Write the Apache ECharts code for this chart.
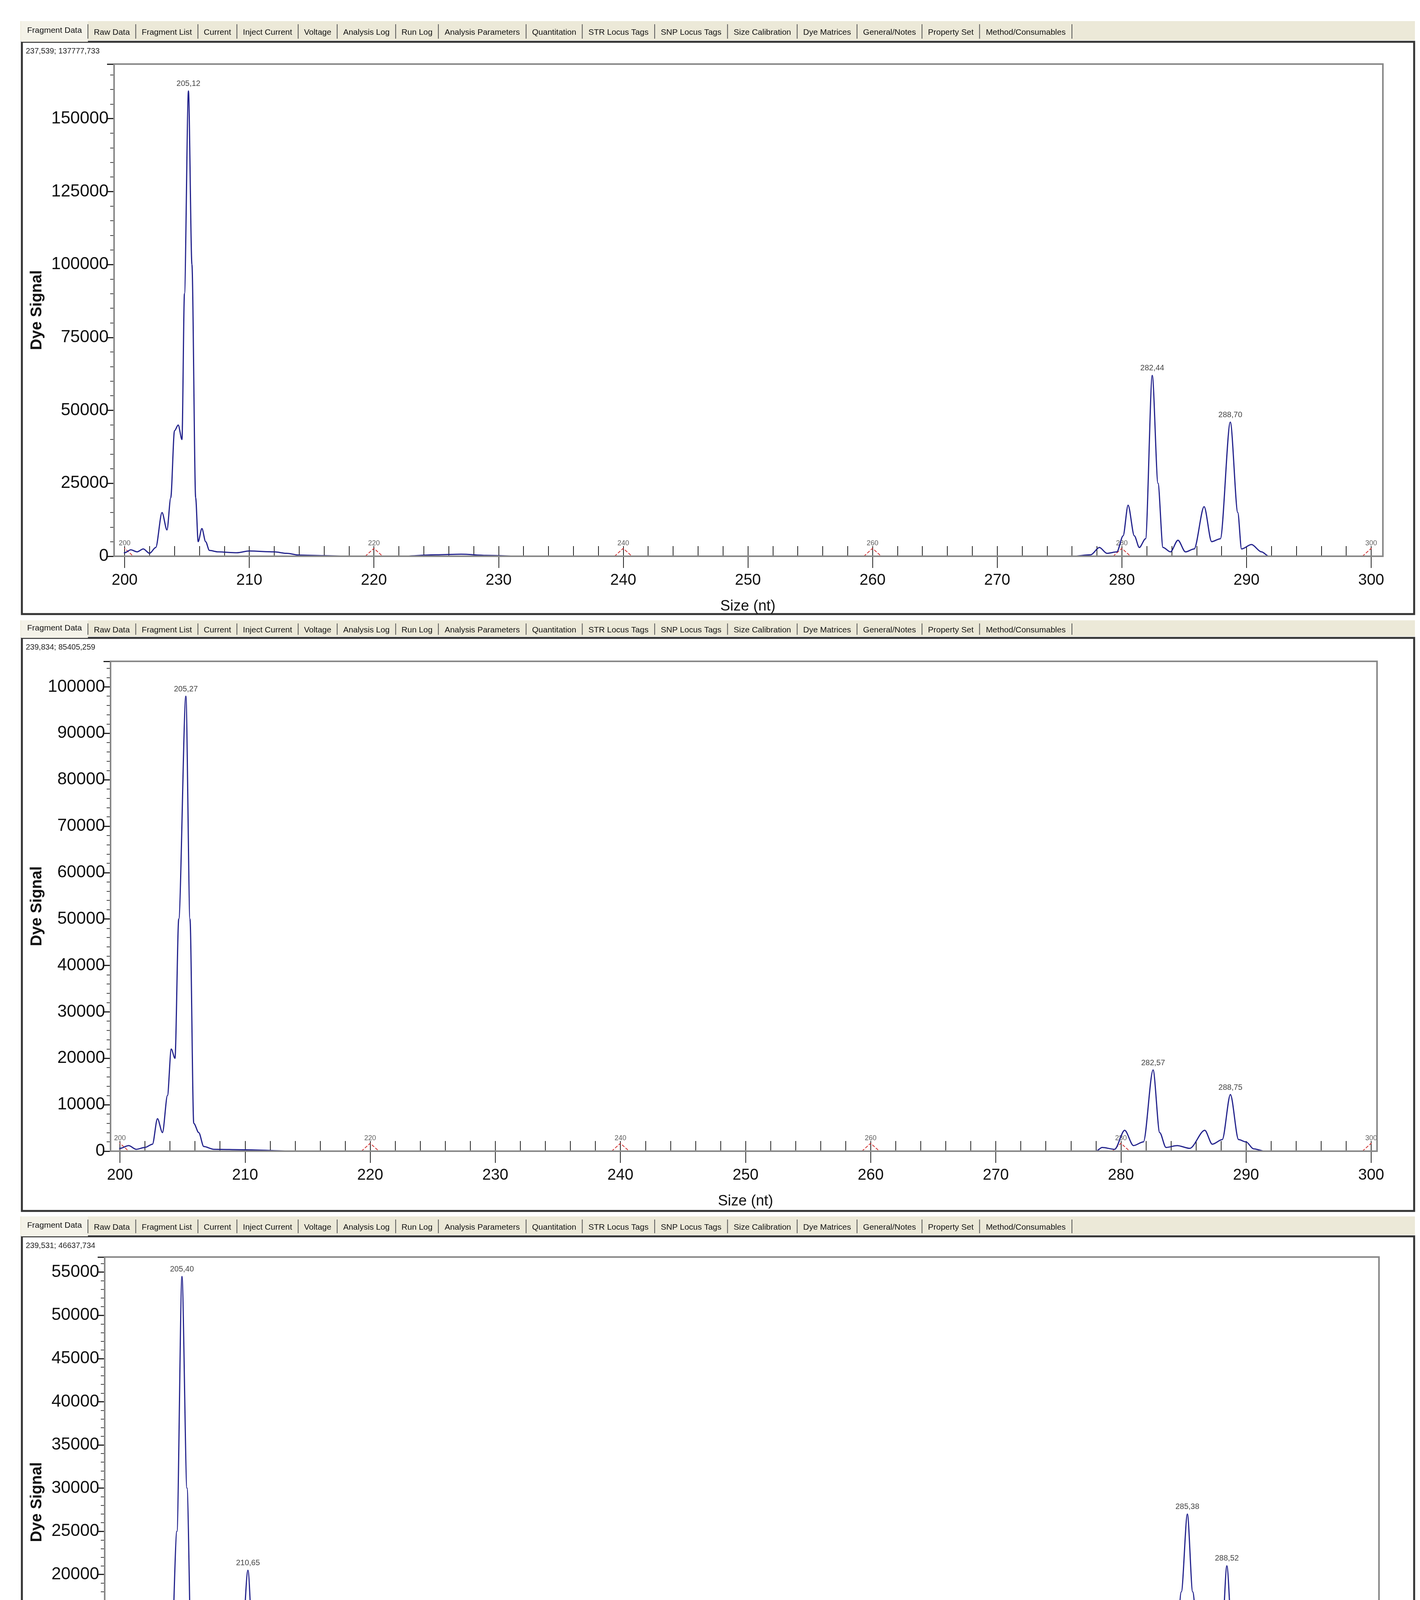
<!DOCTYPE html>
<html>
<head>
<meta charset="UTF-8">
<title>Fragment Data</title>
<script src="https://cdn.jsdelivr.net/npm/echarts@6/dist/echarts.min.js"></script>
<style>
  body { margin: 0; background: #fff; }
  #chart { width: 3635px; height: 4696px; }
</style>
</head>
<body>
<div id="chart"></div>
<script>
// tabs of the analysis window
var tabNames = ['Fragment Data', 'Raw Data', 'Fragment List', 'Current', 'Inject Current', 'Voltage',
  'Analysis Log', 'Run Log', 'Analysis Parameters', 'Quantitation', 'STR Locus Tags', 'SNP Locus Tags',
  'Size Calibration', 'Dye Matrices', 'General/Notes', 'Property Set', 'Method/Consumables'];
var cursorText = ['237,539; 137777,733', '239,834; 85405,259', '239,531; 46637,734'];

var xTicks = [200, 210, 220, 230, 240, 250, 260, 270, 280, 290, 300];
var yMax = [168700, 105500, 56750];
var yStep = [25000, 10000, 5000];

// blue dye traces [size, signal]
var trace1 = [[199.3,0],[200,1200],[200.5,2200],[201,1500],[201.5,2500],[202,1000],[202.5,3000],[203,15000],[203.4,9000],[203.7,20000],[204,43000],[204.3,45000],[204.6,40000],[204.8,90000],[205.12,159500],[205.4,100000],[205.7,20000],[205.9,5000],[206.2,9500],[206.5,5000],[206.8,2000],[207.5,1500],[209,1200],[210,1800],[212,1500],[213,1000],[214,400],[216,200],[218,0],[222,0],[225,500],[227,700],[229,300],[232,0],[276,0],[277.5,500],[278.2,3000],[278.8,1000],[279.6,1500],[280.1,7000],[280.5,17500],[281,7000],[281.4,3000],[281.9,6000],[282.44,62000],[282.9,25000],[283.3,3000],[283.9,1500],[284.5,5500],[285.1,1500],[285.8,2500],[286.6,17000],[287.2,5000],[287.9,6000],[288.7,46000],[289.3,15000],[289.6,2500],[290.4,4000],[291.2,1500],[291.8,0],[300.5,0]];
var trace2 = [[199.3,0],[200,600],[200.7,1200],[201.3,400],[202,800],[202.6,1500],[203,7000],[203.4,4000],[203.8,12000],[204.1,22000],[204.4,20000],[204.7,50000],[205.27,98000],[205.6,50000],[205.9,6000],[206.3,4000],[206.7,1000],[207.5,400],[210,300],[214,0],[278,0],[278.5,800],[279.5,400],[280.3,4500],[281,1200],[281.8,2000],[282.57,17500],[283.1,4000],[283.6,800],[284.5,1200],[285.5,600],[286.7,4500],[287.3,1500],[288.1,2500],[288.75,12200],[289.4,2500],[290,2000],[290.6,500],[291.5,0],[300.5,0]];
var trace3 = [[199.3,0],[200,400],[201,300],[202,700],[203.3,3000],[203.8,2500],[204.5,8000],[205,25000],[205.4,54500],[205.8,30000],[206.2,6000],[206.7,2500],[207.3,1000],[208.2,2200],[208.8,1500],[209.5,2500],[210.1,10000],[210.65,20500],[211.1,10000],[211.5,1500],[212.2,200],[215,200],[220,300],[224,100],[228,300],[230,400],[232,100],[240,200],[245,0],[252,200],[253.5,800],[254.2,200],[258,300],[259.5,500],[261,200],[264,0],[279,0],[280.5,700],[281.5,1200],[282.3,2000],[283.2,6500],[283.8,4500],[284.3,6000],[284.9,18000],[285.38,27000],[285.8,18000],[286.3,11000],[286.9,6500],[287.6,5000],[288.1,12000],[288.52,21000],[289,11000],[289.5,3000],[290.2,1200],[291,800],[292,200],[293,0],[300.5,0]];

// called peaks [size, signal, label]
var peaks1 = [[205.12,159500,'205,12'],[282.44,62000,'282,44'],[288.7,46000,'288,70']];
var peaks2 = [[205.27,98000,'205,27'],[282.57,17500,'282,57'],[288.75,12200,'288,75']];
var peaks3 = [[205.4,54500,'205,40'],[210.65,20500,'210,65'],[285.38,27000,'285,38'],[288.52,21000,'288,52']];

// red size standard peaks
var sizeStd = [200, 220, 240, 260, 280, 300];
var stdHeight = [2700, 1700, 900];

// layout of the three panels (pixels)
var panels = [
  { tabTop: 54,   frameTop: 107,  frameBottom: 1572, boxL: 292, boxR: 3540, x200: 319, x300: 3510, top: 164,  base: 1424 },
  { tabTop: 1588, frameTop: 1633, frameBottom: 3100, boxL: 283, boxR: 3525, x200: 307, x300: 3510, top: 1693, base: 2947 },
  { tabTop: 3114, frameTop: 3165, frameBottom: 4694, boxL: 268, boxR: 3530, x200: 292, x300: 3510, top: 3218, base: 4473 }
];
var traces = [trace1, trace2, trace3];
var peaks = [peaks1, peaks2, peaks3];

var font = "'Liberation Sans', Arial, sans-serif";
var tabFont = "'Liberation Sans Narrow', 'Liberation Sans', Arial, sans-serif";

var ctx = document.createElement('canvas').getContext('2d');
ctx.font = '24px ' + tabFont;
var tabPad = 16;
var rawW = tabNames.map(function (t) { return ctx.measureText(t).width + tabPad * 2; });
var sumW = rawW.reduce(function (a, b) { return a + b; }, 0);
var tabScale = 2690 / sumW;

var grids = [], xAxes = [], yAxes = [], series = [], graphics = [];

panels.forEach(function (p, i) {
  // window frame + tab bar
  graphics.push({ type: 'rect', shape: { x: 52, y: p.tabTop, width: 3570, height: p.frameTop - p.tabTop - 4 },
    style: { fill: '#ECE9D8' }, z: -10 });
  graphics.push({ type: 'rect', shape: { x: 56, y: p.frameTop, width: 3564, height: p.frameBottom - p.frameTop },
    style: { fill: '#fff', stroke: '#333', lineWidth: 5 }, z: -9 });
  var tx = 54;
  tabNames.forEach(function (t, k) {
    var w = rawW[k] * tabScale;
    if (k === 0) {
      graphics.push({ type: 'rect', shape: { x: tx, y: p.tabTop, width: w, height: p.frameTop - p.tabTop },
        style: { fill: '#F4F2E8' }, z: -8 });
    }
    graphics.push({ type: 'text', x: tx + w / 2, y: p.tabTop + (p.frameTop - p.tabTop) / 2 + (k === 0 ? -2 : 3),
      style: { text: t, font: Math.round(24 * tabScale) + 'px ' + tabFont, fill: '#111', align: 'center', verticalAlign: 'middle' } });
    tx += w;
    graphics.push({ type: 'line', shape: { x1: tx, y1: p.tabTop + 8, x2: tx, y2: p.frameTop - 8 },
      style: { stroke: '#555', lineWidth: 2 } });
  });
  graphics.push({ type: 'text', x: 66, y: p.frameTop + 24,
    style: { text: cursorText[i], font: '20px ' + tabFont, fill: '#222', verticalAlign: 'middle' } });
  // plot box
  graphics.push({ type: 'rect', shape: { x: p.boxL, y: p.top, width: p.boxR - p.boxL, height: p.base - p.top },
    style: { fill: 'none', stroke: '#888', lineWidth: 4 }, z: 5 });
  graphics.push({ type: 'text', x: 95, y: (p.top + p.base) / 2, rotation: Math.PI / 2,
    style: { text: 'Dye Signal', font: 'bold 40px ' + font, fill: '#111', align: 'center', verticalAlign: 'middle' } });

  grids.push({ left: p.x200, top: p.top, width: p.x300 - p.x200, height: p.base - p.top });

  xAxes.push({
    gridIndex: i, type: 'value', min: 200, max: 300, interval: 10,
    axisLine: { show: true, onZero: false, lineStyle: { color: '#000', width: 4 } },
    axisTick: { show: true, inside: false, length: 30, lineStyle: { color: '#222', width: 2 } },
    axisLabel: { fontSize: 40, fontFamily: font, color: '#111', margin: 42,
      formatter: function (v) { return xTicks.indexOf(v) >= 0 ? String(v) : ''; } },
    splitLine: { show: false },
    name: 'Size (nt)', nameLocation: 'middle', nameGap: 110,
    nameTextStyle: { fontSize: 38, fontFamily: font, color: '#111' }
  });
  xAxes.push({
    gridIndex: i, type: 'value', min: 200, max: 300, interval: 2, position: 'bottom',
    axisLine: { show: false }, axisLabel: { show: false }, splitLine: { show: false },
    axisTick: { show: true, inside: true, length: 26, lineStyle: { color: '#222', width: 2 } }
  });
  yAxes.push({
    gridIndex: i, type: 'value', min: 0, max: yMax[i], interval: yStep[i], offset: p.x200 - p.boxL,
    axisLine: { show: false },
    axisTick: { show: true, length: 18, lineStyle: { color: '#222', width: 3 } },
    minorTick: { show: true, splitNumber: 5, length: 10, lineStyle: { color: '#444', width: 2 } },
    axisLabel: { fontSize: 44, fontFamily: font, color: '#111', margin: 14, showMaxLabel: false,
      formatter: function (v) { return String(v); } },
    splitLine: { show: false }
  });

  series.push({
    type: 'line', xAxisIndex: i * 2, yAxisIndex: i, data: traces[i], showSymbol: false,
    smooth: 0.3, smoothMonotone: 'x', lineStyle: { color: '#22228C', width: 3 }, z: 3
  });
  var red = [];
  sizeStd.forEach(function (s) {
    red.push([s - 0.7, 0], [s, stdHeight[i]], [s + 0.7, 0], null);
  });
  series.push({
    type: 'line', xAxisIndex: i * 2, yAxisIndex: i, data: red, showSymbol: false, connectNulls: false,
    lineStyle: { color: '#D03030', width: 2, type: 'dashed' }, z: 2
  });
  series.push({
    type: 'scatter', xAxisIndex: i * 2, yAxisIndex: i, symbolSize: 0,
    data: sizeStd.map(function (s) { return [s, stdHeight[i], String(s)]; }),
    label: { show: true, position: 'top', distance: 4, fontSize: 18, fontFamily: tabFont, color: '#333',
      formatter: function (d) { return d.value[2]; } }
  });
  series.push({
    type: 'scatter', xAxisIndex: i * 2, yAxisIndex: i, symbolSize: 0, data: peaks[i],
    label: { show: true, position: 'top', distance: 8, fontSize: 20, fontFamily: tabFont, color: '#111',
      formatter: function (d) { return d.value[2]; } }
  });
});

var chart = echarts.init(document.getElementById('chart'));
chart.setOption({
  backgroundColor: '#fff',
  animation: false,
  grid: grids,
  xAxis: xAxes,
  yAxis: yAxes,
  series: series,
  graphic: graphics
});
</script>
</body>
</html>
